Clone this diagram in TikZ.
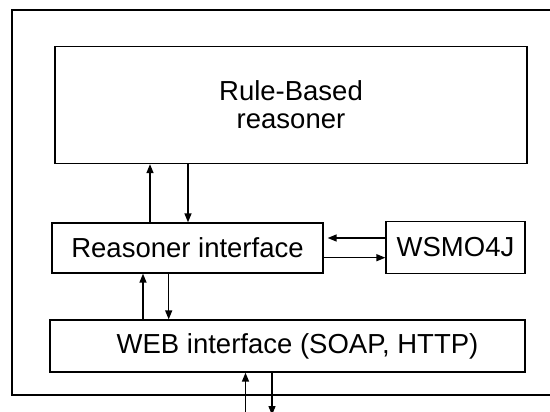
\documentclass[tikz,border=0pt]{standalone}
\usepackage{fontspec}
\setmainfont{Liberation Sans}
\usetikzlibrary{arrows.meta}
\begin{document}
\begin{tikzpicture}[x=1pt,y=-1pt,
  box/.style={draw,line width=1.3pt,rectangle,inner sep=0pt,align=center,
    font=\fontsize{27.5}{28}\selectfont},
  arr/.style={line width=1.4pt,-{Triangle[length=9pt,width=7pt]}}]
\useasboundingbox (0,0) rectangle (550,412);
\clip (0,0) rectangle (550,412);
\draw[line width=1.3pt] (565,10) -- (12,10) -- (12,395) -- (565,395);
\node[box,minimum width=472pt,minimum height=117pt] (rb) at (291,105) {Rule-Based\\reasoner};
\node[box,minimum width=271pt,minimum height=50pt] (ri) at (187.5,248) {Reasoner interface};
\node[box,minimum width=139pt,minimum height=52pt] (ws) at (455.5,247.5) {WSMO4J};
\node[box,minimum width=475pt,minimum height=52pt] (web) at (287.5,346) {\hspace{20pt}WEB interface (SOAP, HTTP)};
\coordinate (bin) at (245.5,415);
\coordinate (bout) at (272,415);
% Reasoner interface <-> Rule-based
\draw[arr] ([xshift=-37.5pt]ri.north) -- ([xshift=-37.5pt]ri.north |- rb.south);
\draw[arr] ([xshift=-103pt]rb.south) -- ([xshift=-103pt]rb.south |- ri.north);
% WEB <-> Reasoner interface
\draw[arr] ([xshift=-144.5pt]web.north) -- ([xshift=-144.5pt]web.north |- ri.south);
\draw[arr] ([xshift=-118.8pt]web.north |- ri.south) -- ([xshift=-118.8pt]web.north);
% WSMO4J <-> Reasoner interface
\draw[arr,shorten >=4pt] ([yshift=9.5pt]ws.west) -- ([yshift=9.5pt]ws.west -| ri.east);
\draw[arr] ([yshift=-9.7pt]ri.east) -- ([yshift=-9.7pt]ri.east -| ws.west);
% outside <-> WEB
\draw[arr] (bin) -- (bin |- web.south);
\draw[arr] (bout |- web.south) -- (bout);
\end{tikzpicture}
\end{document}
